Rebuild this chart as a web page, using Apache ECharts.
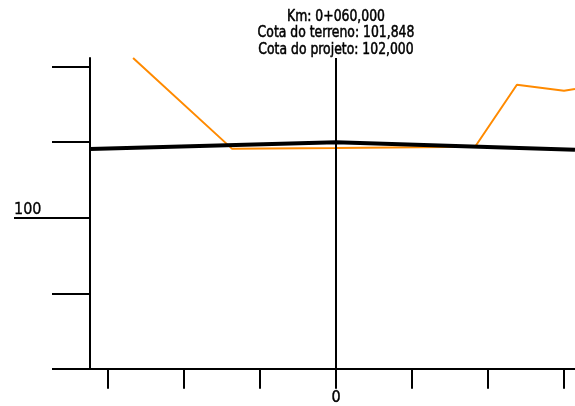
<!DOCTYPE html>
<html><head><meta charset="utf-8">
<script src="https://cdn.jsdelivr.net/npm/echarts@6/dist/echarts.min.js"></script>
<style>html,body{margin:0;padding:0;background:#fff}#c{width:575px;height:406px}</style>
</head><body><div id="c"></div>
<script>
const titleLines = ['Km: 0+060,000', 'Cota do terreno: 101,848', 'Cota do projeto: 102,000'];
const projectX = [-6.474, 0, 6.289];
const projectY = [101.82, 102.0, 101.80];
const terrainX = [-5.34, -2.74, 0, 3.66, 4.76, 6.0, 6.289];
const terrainY = [104.23, 101.83, 101.848, 101.88, 103.52, 103.36, 103.41];
const xTicks = [-6, -4, -2, 0, 2, 4, 6];
const xLabels = [0];
const yTicks = [96, 98, 100, 102, 104];
const yLabelValue = 100;

const chart = echarts.init(document.getElementById('c'));
const font = '"DejaVu Sans Condensed", "DejaVu Sans", sans-serif';
chart.setOption({
  animation: false,
  graphic: titleLines.map((t, i) => ({
    type: 'text', x: 336, y: 16.5 + i * 16.5, scaleX: 0.89,
    style: {text: t, fontFamily: font, fontSize: 15.5, fill: '#000', align: 'center', verticalAlign: 'middle',
      stroke: '#000', lineWidth: 0.5}
  })),
  grid: {left: 90, right: 0, top: 58, bottom: 36},
  xAxis: {
    type: 'value', min: -6.474, max: 6.289,
    axisLine: {show: true, onZero: false, lineStyle: {color: '#000', width: 2}},
    axisTick: {show: true, customValues: xTicks, length: 20, lineStyle: {color: '#000', width: 2}},
    axisLabel: {show: true, customValues: xLabels, margin: 21, fontFamily: font, fontSize: 16, color: '#000',
      textBorderColor: '#000', textBorderWidth: 0.4},
    splitLine: {show: false}
  },
  yAxis: [{
    type: 'value', min: 96, max: 104.23,
    axisLine: {show: true, onZero: false, lineStyle: {color: '#000', width: 2}},
    axisTick: {show: true, customValues: yTicks, length: 38, lineStyle: {color: '#000', width: 2}},
    axisLabel: {show: true, customValues: [yLabelValue], align: 'left', verticalAlign: 'bottom', margin: 76,
      fontFamily: font, fontSize: 16, color: '#000', textBorderColor: '#000', textBorderWidth: 0.3},
    splitLine: {show: false}
  }, {
    type: 'value', min: 96, max: 104.23, position: 'left',
    axisLine: {show: false, onZero: false},
    axisTick: {show: true, customValues: [yLabelValue], length: 76, lineStyle: {color: '#000', width: 2}},
    axisLabel: {show: false},
    splitLine: {show: false}
  }],
  series: [{
    type: 'line', name: 'Terreno', symbol: 'none',
    data: terrainX.map((x, i) => [x, terrainY[i]]),
    lineStyle: {color: '#ff8a00', width: 2},
    z: 2
  }, {
    type: 'line', name: 'Projeto', symbol: 'none',
    data: projectX.map((x, i) => [x, projectY[i]]),
    lineStyle: {color: '#000', width: 4},
    z: 3,
    markLine: {
      symbol: 'none', silent: true, label: {show: false},
      lineStyle: {color: '#000', width: 2, type: 'solid'},
      data: [{xAxis: 0}]
    }
  }]
});
</script></body></html>
